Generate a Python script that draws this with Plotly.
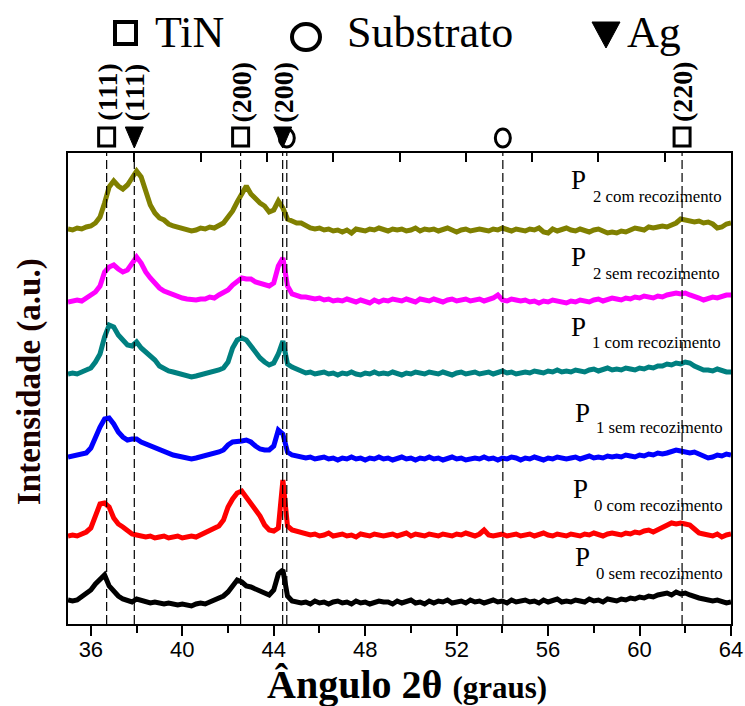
import numpy as np
import plotly.graph_objects as go

# 2-theta scan grid (degrees)
two_theta = np.round(np.arange(35.0, 64.0001, 0.2), 1)

# Stacked diffractograms (a.u., vertically offset)
p2_com = [395, 394, 396, 395, 397, 398, 401, 407, 421, 437,
          443, 438, 435, 439, 446, 453, 447, 433, 419, 411,
          406, 404, 400, 398, 397, 396, 395, 393, 394, 396,
          395, 397, 396, 398, 401, 407, 413, 422, 430, 438,
          430, 425, 421, 418, 412, 414, 423, 416, 405, 403,
          401, 401, 398, 396, 395, 396, 394, 395, 393, 394,
          392, 394, 391, 395, 394, 393, 395, 394, 396, 394,
          393, 395, 394, 395, 393, 394, 396, 393, 395, 394,
          395, 393, 394, 396, 394, 392, 394, 395, 393, 394,
          395, 394, 393, 395, 394, 396, 394, 393, 395, 394,
          393, 395, 394, 396, 392, 391, 395, 393, 394, 396,
          394, 393, 395, 394, 392, 394, 395, 393, 391, 392,
          391, 393, 392, 394, 396, 395, 394, 397, 396, 397,
          398, 397, 399, 401, 405, 404, 403, 402, 403, 401,
          402, 400, 396, 397, 400, 401]

p2_sem = [322, 323, 324, 323, 326, 328, 332, 338, 352, 357,
          359, 355, 352, 354, 360, 367, 361, 352, 346, 341,
          336, 333, 331, 329, 327, 326, 325, 324, 324, 325,
          325, 327, 326, 329, 331, 334, 339, 343, 346, 345,
          345, 342, 341, 340, 338, 341, 358, 366, 338, 330,
          328, 327, 327, 326, 325, 326, 324, 325, 323, 324,
          323, 325, 324, 322, 324, 323, 321, 324, 322, 324,
          323, 325, 324, 323, 325, 324, 322, 325, 324, 323,
          325, 324, 322, 324, 325, 323, 324, 325, 323, 324,
          325, 323, 324, 326, 329, 324, 323, 325, 324, 323,
          324, 322, 323, 321, 323, 322, 324, 323, 322, 321,
          323, 322, 324, 323, 322, 324, 325, 323, 324, 326,
          325, 324, 326, 325, 327, 326, 328, 327, 326, 328,
          327, 329, 330, 331, 330, 331, 329, 328, 326, 324,
          325, 327, 326, 328, 329, 329]

p1_com = [250, 251, 250, 252, 253, 256, 262, 270, 287, 299,
          297, 289, 284, 279, 278, 282, 276, 272, 268, 264,
          258, 255, 253, 252, 251, 249, 248, 247, 248, 249,
          250, 251, 253, 254, 256, 262, 276, 284, 286, 284,
          278, 271, 266, 262, 259, 261, 270, 283, 260, 257,
          255, 254, 251, 252, 250, 251, 252, 250, 251, 249,
          251, 250, 252, 250, 249, 251, 250, 252, 250, 251,
          250, 252, 251, 249, 251, 250, 252, 251, 250, 252,
          251, 250, 252, 251, 249, 251, 252, 250, 251, 252,
          250, 251, 252, 250, 251, 253, 251, 252, 250, 251,
          252, 251, 253, 252, 251, 253, 252, 254, 252, 253,
          252, 254, 253, 252, 254, 255, 253, 254, 256, 254,
          255, 254, 256, 255, 254, 256, 255, 257, 256, 258,
          258, 260, 259, 261, 260, 262, 261, 258, 256, 254,
          254, 253, 255, 253, 252, 252]

p1_sem = [167, 168, 169, 170, 171, 176, 188, 197, 205, 206,
          200, 192, 187, 184, 185, 185, 182, 180, 178, 176,
          174, 172, 171, 169, 168, 167, 167, 165, 166, 167,
          168, 169, 170, 172, 174, 179, 182, 182, 183, 184,
          182, 178, 175, 174, 174, 178, 194, 190, 172, 169,
          168, 167, 166, 167, 165, 166, 167, 165, 166, 164,
          166, 165, 167, 165, 166, 164, 166, 165, 167, 165,
          166, 164, 165, 167, 165, 166, 164, 166, 165, 167,
          165, 166, 164, 166, 167, 165, 166, 164, 165, 166,
          165, 167, 165, 166, 164, 166, 165, 167, 166, 164,
          166, 165, 167, 166, 164, 166, 165, 167, 166, 165,
          166, 167, 165, 166, 168, 166, 167, 166, 168, 167,
          168, 167, 169, 168, 167, 169, 168, 170, 169, 171,
          170, 171, 173, 174, 173, 172, 171, 172, 170, 168,
          166, 167, 169, 168, 170, 169]

p0_com = [88, 89, 88, 90, 92, 96, 107, 120, 121, 117,
          106, 100, 97, 93, 90, 89, 88, 87, 88, 86,
          87, 88, 86, 87, 88, 86, 87, 88, 87, 89,
          91, 93, 95, 98, 104, 117, 125, 131, 133, 127,
          120, 115, 108, 99, 94, 93, 96, 144, 98, 94,
          93, 92, 90, 89, 90, 88, 89, 91, 88, 89,
          90, 88, 89, 87, 90, 89, 88, 90, 89, 88,
          89, 90, 88, 89, 91, 88, 90, 89, 88, 90,
          89, 88, 90, 89, 88, 90, 89, 91, 89, 88,
          90, 94, 89, 88, 89, 90, 88, 89, 90, 88,
          89, 90, 88, 89, 91, 89, 88, 90, 89, 88,
          90, 89, 88, 90, 89, 91, 89, 88, 90, 91,
          90, 89, 91, 90, 92, 91, 93, 94, 92, 94,
          96, 99, 101, 100, 101, 100, 99, 95, 91, 90,
          89, 88, 90, 87, 89, 90]

p0_sem = [24, 23, 24, 27, 30, 34, 40, 44, 49, 38,
          32, 28, 25, 23, 22, 25, 24, 22, 21, 22,
          21, 20, 21, 20, 19, 20, 19, 18, 20, 21,
          20, 22, 23, 25, 28, 32, 38, 44, 42, 38,
          37, 35, 33, 31, 29, 34, 50, 54, 28, 23,
          22, 21, 22, 20, 23, 21, 22, 20, 22, 23,
          21, 22, 20, 23, 21, 22, 20, 21, 23, 22,
          22, 20, 23, 21, 22, 24, 21, 22, 20, 23,
          21, 23, 22, 24, 21, 22, 23, 21, 24, 22,
          23, 21, 22, 24, 22, 23, 21, 24, 22, 23,
          24, 22, 23, 21, 24, 22, 23, 25, 22, 23,
          22, 24, 23, 22, 25, 23, 24, 22, 25, 24,
          23, 25, 24, 26, 25, 27, 26, 28, 27, 29,
          30, 31, 29, 32, 30, 31, 29, 27, 26, 25,
          24, 23, 24, 22, 21, 22]

series_names = ["P2 com recozimento", "P2 sem recozimento", "P1 com recozimento",
                "P1 sem recozimento", "P0 com recozimento", "P0 sem recozimento"]
series_sub = ["2 com recozimento", "2 sem recozimento", "1 com recozimento",
              "1 sem recozimento", "0 com recozimento", "0 sem recozimento"]
series_data = [p2_com, p2_sem, p1_com, p1_sem, p0_com, p0_sem]
series_colors = ["#808000", "#FF00FF", "#008080", "#0000FF", "#FF0000", "#000000"]

# Reference peak positions (degrees)
tin_peaks = [36.69, 42.55, 61.86]
tin_hkl = ["(111)", "(200)", "(220)"]
ag_peaks = [37.9, 44.39]
ag_hkl = ["(111)", "(200)"]
sub_peaks = [44.57, 54.02]

# ---- layout geometry (pixels) ----
W, H = 745, 706
L, R, T, B = 68, 731, 153, 624
Y_MAX = B - T


def pxx(px):
    return (px - L) / (R - L)


def pxy(py):
    return (B - py) / (B - T)


SERIF = "Liberation Serif"
fig = go.Figure()

for name, ys, col in zip(series_names, series_data, series_colors):
    fig.add_trace(go.Scatter(x=two_theta, y=ys, mode="lines", name=name,
                             line=dict(color=col, width=5), showlegend=False))

# carrier for the top tick axis
fig.add_trace(go.Scatter(x=[35, 64], y=[None, None], xaxis="x2", mode="lines",
                         showlegend=False, hoverinfo="skip"))

shapes = []
for p in tin_peaks + ag_peaks + sub_peaks:
    shapes.append(dict(type="line", xref="x", yref="paper", x0=p, x1=p, y0=0, y1=1,
                       line=dict(color="black", width=1.2, dash="9px,4px"), layer="above"))

# phase symbols above the frame, one per reference peak
ROW = pxy(137)
for p in tin_peaks:
    shapes.append(dict(type="rect", xref="x", yref="paper", xsizemode="pixel", ysizemode="pixel",
                       xanchor=p, yanchor=ROW, x0=-8, x1=8, y0=-9, y1=9,
                       line=dict(color="black", width=3)))
for p in sub_peaks:
    shapes.append(dict(type="circle", xref="x", yref="paper", xsizemode="pixel", ysizemode="pixel",
                       xanchor=p, yanchor=ROW, x0=-7.5, x1=7.5, y0=-10, y1=8,
                       line=dict(color="black", width=3)))
for p in ag_peaks:
    shapes.append(dict(type="path", xref="x", yref="paper", xsizemode="pixel", ysizemode="pixel",
                       xanchor=p, yanchor=ROW, path="M -9 10 L 9 10 L 0 -11 Z",
                       fillcolor="black", line=dict(color="black", width=1)))

# header key symbols
shapes.append(dict(type="rect", xref="paper", yref="paper",
                   x0=pxx(115), x1=pxx(136), y0=pxy(44), y1=pxy(22),
                   line=dict(color="black", width=4)))
shapes.append(dict(type="circle", xref="paper", yref="paper",
                   x0=pxx(292), x1=pxx(320), y0=pxy(50), y1=pxy(24),
                   line=dict(color="black", width=4)))
shapes.append(dict(type="path", xref="paper", yref="paper",
                   path=f"M {pxx(592)} {pxy(22)} L {pxx(620)} {pxy(22)} L {pxx(606)} {pxy(48)} Z",
                   fillcolor="black", line=dict(color="black", width=1)))

ann = []
for txt, x0 in [("TiN", 153), ("Substrato", 345), ("Ag", 625)]:
    ann.append(dict(text=txt, xref="paper", yref="paper", x=pxx(x0), y=pxy(32),
                    xanchor="left", yanchor="middle", showarrow=False,
                    font=dict(family=SERIF, size=44, color="black")))

for p, h in list(zip(tin_peaks, tin_hkl)) + list(zip(ag_peaks, ag_hkl)):
    ann.append(dict(text=f"<b>{h}</b>", xref="x", yref="paper", x=p, y=pxy(92),
                    textangle=-90, xanchor="center", yanchor="middle", showarrow=False,
                    font=dict(family=SERIF, size=28, color="black")))

# series labels: P + subscript
label_pos = [(569, 180, 724, 196), (569, 257, 722, 273), (569, 327, 723, 342),
             (573, 413, 725, 427), (571, 489, 725, 505), (573, 557, 725, 573)]
for sub, (px_p, py_p, px_s, py_s) in zip(series_sub, label_pos):
    ann.append(dict(text="P", xref="paper", yref="paper", x=pxx(px_p), y=pxy(py_p),
                    xanchor="left", yanchor="middle", showarrow=False,
                    font=dict(family=SERIF, size=27, color="black")))
    ann.append(dict(text=sub, xref="paper", yref="paper", x=pxx(px_s), y=pxy(py_s),
                    xanchor="right", yanchor="middle", showarrow=False,
                    font=dict(family=SERIF, size=16.8, color="black")))

# axis titles
ann.append(dict(text="<b>Intensidade (a.u.)</b>", xref="paper", yref="paper",
                x=pxx(29), y=pxy(382), textangle=-90, xanchor="center", yanchor="middle",
                showarrow=False, font=dict(family=SERIF, size=33, color="#1a0000")))
ann.append(dict(text="<b>Ângulo 2θ <span style='font-size:31px'>(graus)</span></b>",
                xref="paper", yref="paper", x=pxx(407), y=pxy(684),
                xanchor="center", yanchor="middle", showarrow=False,
                font=dict(family=SERIF, size=40, color="black")))

fig.update_layout(
    template="none",
    width=W, height=H, autosize=False,
    margin=dict(l=L, r=W - R, t=T, b=H - B),
    paper_bgcolor="white", plot_bgcolor="white",
    shapes=shapes, annotations=ann,
    xaxis=dict(range=[35, 64], tick0=36, dtick=4, ticks="outside", ticklen=10, tickwidth=1.5,
               tickcolor="black", showline=True, linecolor="black", linewidth=2, mirror=True,
               showgrid=False, zeroline=False, automargin=False, ticklabelstandoff=-5,
               tickfont=dict(family="Liberation Sans", size=22, color="black"),
               minor=dict(tick0=36, dtick=2, ticks="outside", ticklen=7, tickwidth=1.5,
                          tickcolor="black", showgrid=False)),
    xaxis2=dict(range=[35, 64], overlaying="x", side="top", anchor="y", tick0=35, dtick=2.9,
                ticks="inside", ticklen=9, tickwidth=2, tickcolor="black", automargin=False,
                showticklabels=False, showgrid=False, zeroline=False, showline=False),
    yaxis=dict(range=[0, Y_MAX], showticklabels=False, ticks="", showgrid=False,
               automargin=False, zeroline=False, showline=True, linecolor="black",
               linewidth=2, mirror=True),
)

fig.write_html("out.html")
